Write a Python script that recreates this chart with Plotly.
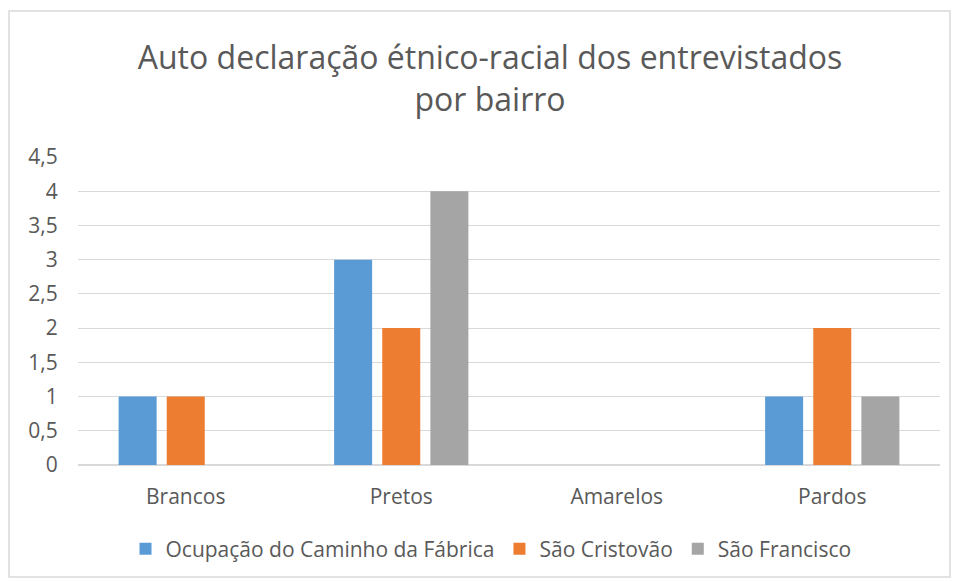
import plotly.graph_objects as go

categories = ["Brancos", "Pretos", "Amarelos", "Pardos"]
series_names = ["Ocupação do Caminho da Fábrica", "São Cristovão", "São Francisco"]
ocupacao = [1, 3, 0, 1]
sao_cristovao = [1, 2, 0, 2]
sao_francisco = [0, 4, 0, 1]
y_tickvals = [0, 0.5, 1, 1.5, 2, 2.5, 3, 3.5, 4, 4.5]
y_ticktext = ["0", "0,5", "1", "1,5", "2", "2,5", "3", "3,5", "4", "4,5"]
title_text = "Auto declaração étnico-racial dos entrevistados<br>por bairro"

colors = ["#5B9BD5", "#ED7D31", "#A5A5A5"]
FONT = "'Open Sans', Lato, sans-serif"
GREY = "#595959"

fig = go.Figure()
for name, vals, c in zip(series_names, [ocupacao, sao_cristovao, sao_francisco], colors):
    fig.add_trace(go.Bar(name=name, x=categories, y=vals, marker=dict(color=c, line=dict(width=0))))

W, H = 953, 581
L, R, T, B = 78, 940, 157, 465
pw, ph = R - L, B - T

def px(x):
    return (x - L) / pw

def py(y):
    return (B - y) / ph

fig.update_layout(
    width=W, height=H,
    margin=dict(l=L, r=W - R, t=T, b=H - B, pad=0),
    paper_bgcolor="white", plot_bgcolor="white",
    barmode="group", bargap=0.33, bargroupgap=0.21,
    font=dict(family=FONT, color=GREY, size=21),
    title=dict(text=title_text, x=490 / W, xanchor="center", y=1 - 69 / H, yanchor="top",
               xref="container", yref="container",
               font=dict(family=FONT, size=32, color=GREY)),
    showlegend=True,
    legend=dict(orientation="h", x=px(491), xanchor="center", y=py(549), yanchor="middle",
                font=dict(family=FONT, size=21, color=GREY), traceorder="normal",
                itemwidth=30, itemsizing="constant"),
    xaxis=dict(showgrid=False, ticks="outside", ticklen=13, tickcolor="rgba(0,0,0,0)",
               tickfont=dict(family=FONT, size=21, color=GREY), showline=False, zeroline=False),
    yaxis=dict(range=[0, 4.5], tickvals=y_tickvals, ticktext=y_ticktext, showgrid=True,
               gridcolor="#D9D9D9", gridwidth=1, zeroline=True, zerolinecolor="#D9D9D9",
               ticks="outside", ticklen=15, tickcolor="rgba(0,0,0,0)",
               tickfont=dict(family=FONT, size=21, color=GREY), showline=False),
    shapes=[dict(type="rect", xref="paper", yref="paper",
                 x0=px(9), x1=px(950), y0=py(577), y1=py(11),
                 line=dict(color="#D9D9D9", width=1.5), fillcolor="rgba(0,0,0,0)", layer="below")],
)

fig.write_html("out.html", config={"displayModeBar": False},
               post_script="document.body.style.margin='0';document.body.style.overflow='hidden';")
